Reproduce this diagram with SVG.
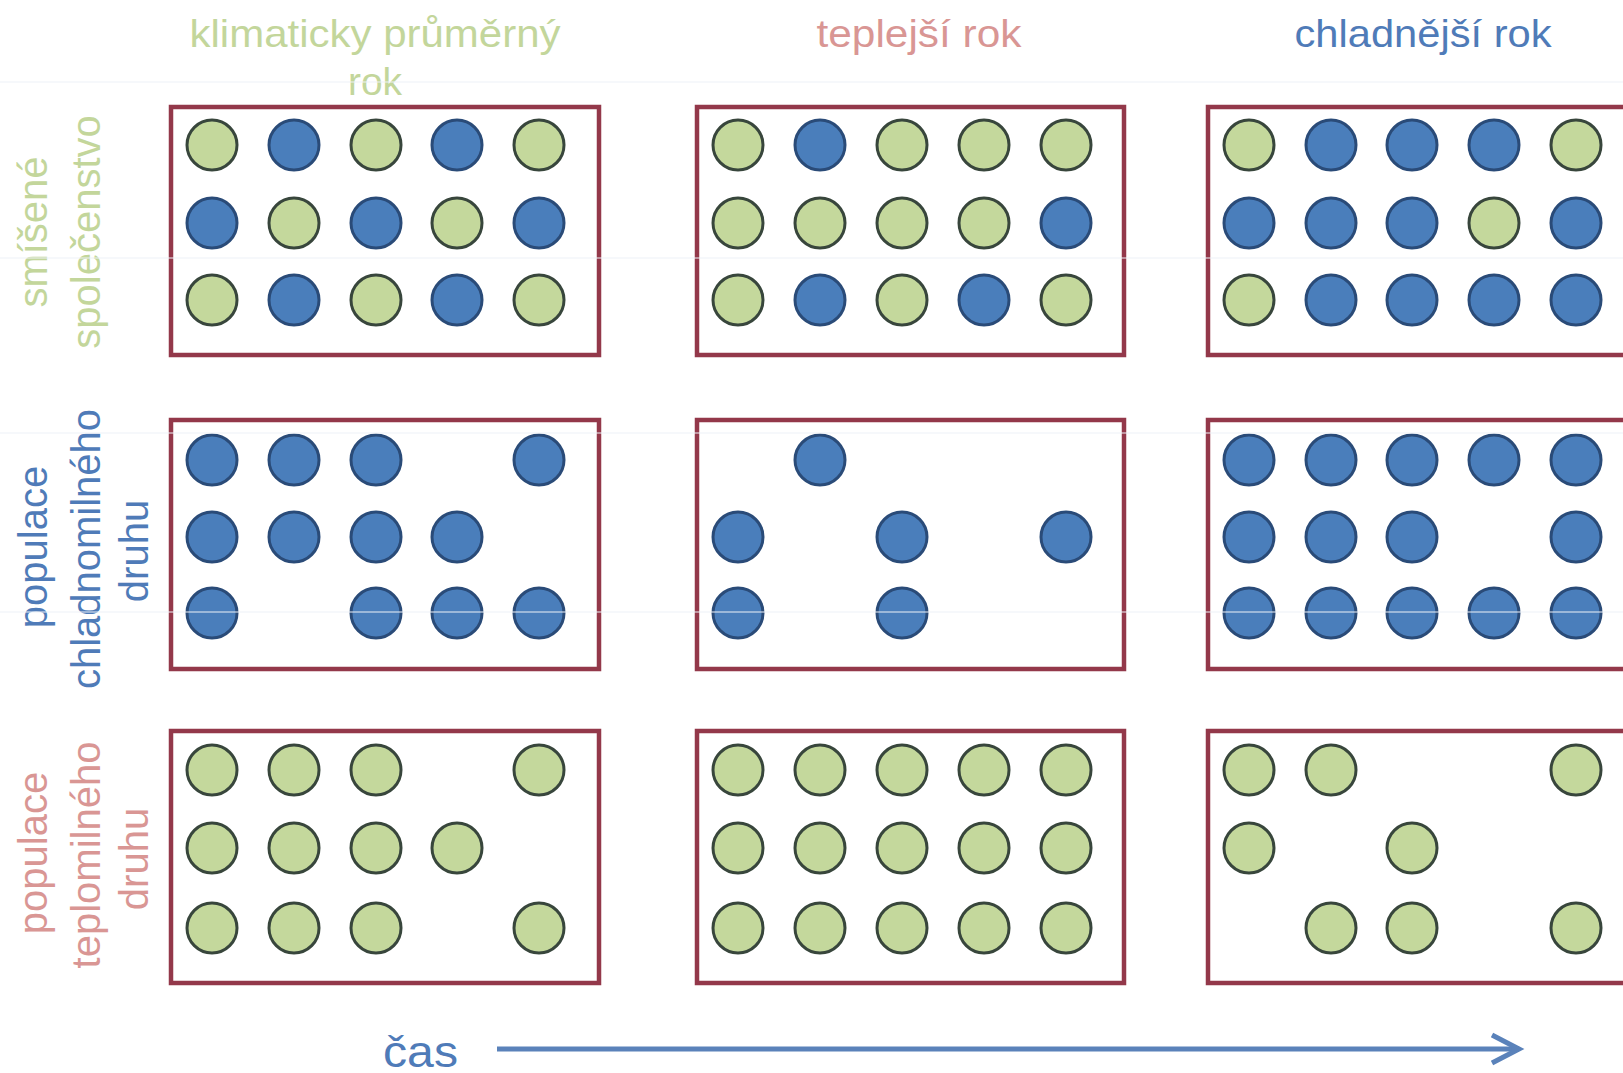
<svg xmlns="http://www.w3.org/2000/svg" width="1623" height="1073" viewBox="0 0 1623 1073">
<style>
.g{fill:#c4d89c;stroke:#38463c;stroke-width:3}
.b{fill:#4a7ebb;stroke:#2a4b78;stroke-width:3}
.box{fill:none;stroke:#93384a;stroke-width:4.5}
.t{font-family:"Liberation Sans",Arial,sans-serif}
.h{font-size:39px;text-anchor:middle}
.lab{font-size:40px;text-anchor:middle}
.green{fill:#c3d69b}
.rose{fill:#d99694}
.blue{fill:#4f7bb8}
.grid{stroke:#eef2f7;stroke-width:1.2}
</style>
<defs>
<marker id="arr" viewBox="-2 -2 34 32" refX="27" refY="14" markerWidth="34" markerHeight="32" markerUnits="userSpaceOnUse" orient="auto" overflow="visible">
<path d="M0,0 L27,14 L0,28" fill="none" stroke="#5a82ba" stroke-width="5"/>
</marker>
</defs>
<rect width="1623" height="1073" fill="#ffffff"/>

<g id="headers" class="t">
<text class="h green" x="375" y="47" textLength="371" lengthAdjust="spacingAndGlyphs">klimaticky průměrný</text>
<text class="h green" x="375" y="95">rok</text>
<text class="h rose" x="919" y="47" textLength="205" lengthAdjust="spacingAndGlyphs">teplejší rok</text>
<text class="h blue" x="1423" y="47" textLength="257" lengthAdjust="spacingAndGlyphs">chladnější rok</text>
</g>

<g id="row-labels" class="t">
<text class="lab green" transform="translate(47,232) rotate(-90)">smíšené</text>
<text class="lab green" transform="translate(100,232) rotate(-90)">společenstvo</text>
<text class="lab blue" transform="translate(47,547) rotate(-90)">populace</text>
<text class="lab blue" transform="translate(100,549) rotate(-90)">chladnomilného</text>
<text class="lab blue" transform="translate(148,551) rotate(-90)">druhu</text>
<text class="lab rose" transform="translate(47,853) rotate(-90)">populace</text>
<text class="lab rose" transform="translate(100,855) rotate(-90)">teplomilného</text>
<text class="lab rose" transform="translate(148,859) rotate(-90)">druhu</text>
</g>

<g id="panel-mixed-average">
<rect class="box" x="171" y="107" width="428" height="248"/>
<circle class="g" cx="212" cy="145" r="25"/><circle class="b" cx="294" cy="145" r="25"/><circle class="g" cx="376" cy="145" r="25"/><circle class="b" cx="457" cy="145" r="25"/><circle class="g" cx="539" cy="145" r="25"/>
<circle class="b" cx="212" cy="223" r="25"/><circle class="g" cx="294" cy="223" r="25"/><circle class="b" cx="376" cy="223" r="25"/><circle class="g" cx="457" cy="223" r="25"/><circle class="b" cx="539" cy="223" r="25"/>
<circle class="g" cx="212" cy="300" r="25"/><circle class="b" cx="294" cy="300" r="25"/><circle class="g" cx="376" cy="300" r="25"/><circle class="b" cx="457" cy="300" r="25"/><circle class="g" cx="539" cy="300" r="25"/>
</g>
<g id="panel-mixed-warmer">
<rect class="box" x="697" y="107" width="427" height="248"/>
<circle class="g" cx="738" cy="145" r="25"/><circle class="b" cx="820" cy="145" r="25"/><circle class="g" cx="902" cy="145" r="25"/><circle class="g" cx="984" cy="145" r="25"/><circle class="g" cx="1066" cy="145" r="25"/>
<circle class="g" cx="738" cy="223" r="25"/><circle class="g" cx="820" cy="223" r="25"/><circle class="g" cx="902" cy="223" r="25"/><circle class="g" cx="984" cy="223" r="25"/><circle class="b" cx="1066" cy="223" r="25"/>
<circle class="g" cx="738" cy="300" r="25"/><circle class="b" cx="820" cy="300" r="25"/><circle class="g" cx="902" cy="300" r="25"/><circle class="b" cx="984" cy="300" r="25"/><circle class="g" cx="1066" cy="300" r="25"/>
</g>
<g id="panel-mixed-colder">
<rect class="box" x="1208" y="107" width="430" height="248"/>
<circle class="g" cx="1249" cy="145" r="25"/><circle class="b" cx="1331" cy="145" r="25"/><circle class="b" cx="1412" cy="145" r="25"/><circle class="b" cx="1494" cy="145" r="25"/><circle class="g" cx="1576" cy="145" r="25"/>
<circle class="b" cx="1249" cy="223" r="25"/><circle class="b" cx="1331" cy="223" r="25"/><circle class="b" cx="1412" cy="223" r="25"/><circle class="g" cx="1494" cy="223" r="25"/><circle class="b" cx="1576" cy="223" r="25"/>
<circle class="g" cx="1249" cy="300" r="25"/><circle class="b" cx="1331" cy="300" r="25"/><circle class="b" cx="1412" cy="300" r="25"/><circle class="b" cx="1494" cy="300" r="25"/><circle class="b" cx="1576" cy="300" r="25"/>
</g>

<g id="panel-cold-average">
<rect class="box" x="171" y="420" width="428" height="249"/>
<circle class="b" cx="212" cy="460" r="25"/><circle class="b" cx="294" cy="460" r="25"/><circle class="b" cx="376" cy="460" r="25"/><circle class="b" cx="539" cy="460" r="25"/>
<circle class="b" cx="212" cy="537" r="25"/><circle class="b" cx="294" cy="537" r="25"/><circle class="b" cx="376" cy="537" r="25"/><circle class="b" cx="457" cy="537" r="25"/>
<circle class="b" cx="212" cy="613" r="25"/><circle class="b" cx="376" cy="613" r="25"/><circle class="b" cx="457" cy="613" r="25"/><circle class="b" cx="539" cy="613" r="25"/>
</g>
<g id="panel-cold-warmer">
<rect class="box" x="697" y="420" width="427" height="249"/>
<circle class="b" cx="820" cy="460" r="25"/>
<circle class="b" cx="738" cy="537" r="25"/><circle class="b" cx="902" cy="537" r="25"/><circle class="b" cx="1066" cy="537" r="25"/>
<circle class="b" cx="738" cy="613" r="25"/><circle class="b" cx="902" cy="613" r="25"/>
</g>
<g id="panel-cold-colder">
<rect class="box" x="1208" y="420" width="430" height="249"/>
<circle class="b" cx="1249" cy="460" r="25"/><circle class="b" cx="1331" cy="460" r="25"/><circle class="b" cx="1412" cy="460" r="25"/><circle class="b" cx="1494" cy="460" r="25"/><circle class="b" cx="1576" cy="460" r="25"/>
<circle class="b" cx="1249" cy="537" r="25"/><circle class="b" cx="1331" cy="537" r="25"/><circle class="b" cx="1412" cy="537" r="25"/><circle class="b" cx="1576" cy="537" r="25"/>
<circle class="b" cx="1249" cy="613" r="25"/><circle class="b" cx="1331" cy="613" r="25"/><circle class="b" cx="1412" cy="613" r="25"/><circle class="b" cx="1494" cy="613" r="25"/><circle class="b" cx="1576" cy="613" r="25"/>
</g>

<g id="panel-warm-average">
<rect class="box" x="171" y="731" width="428" height="252"/>
<circle class="g" cx="212" cy="770" r="25"/><circle class="g" cx="294" cy="770" r="25"/><circle class="g" cx="376" cy="770" r="25"/><circle class="g" cx="539" cy="770" r="25"/>
<circle class="g" cx="212" cy="848" r="25"/><circle class="g" cx="294" cy="848" r="25"/><circle class="g" cx="376" cy="848" r="25"/><circle class="g" cx="457" cy="848" r="25"/>
<circle class="g" cx="212" cy="928" r="25"/><circle class="g" cx="294" cy="928" r="25"/><circle class="g" cx="376" cy="928" r="25"/><circle class="g" cx="539" cy="928" r="25"/>
</g>
<g id="panel-warm-warmer">
<rect class="box" x="697" y="731" width="427" height="252"/>
<circle class="g" cx="738" cy="770" r="25"/><circle class="g" cx="820" cy="770" r="25"/><circle class="g" cx="902" cy="770" r="25"/><circle class="g" cx="984" cy="770" r="25"/><circle class="g" cx="1066" cy="770" r="25"/>
<circle class="g" cx="738" cy="848" r="25"/><circle class="g" cx="820" cy="848" r="25"/><circle class="g" cx="902" cy="848" r="25"/><circle class="g" cx="984" cy="848" r="25"/><circle class="g" cx="1066" cy="848" r="25"/>
<circle class="g" cx="738" cy="928" r="25"/><circle class="g" cx="820" cy="928" r="25"/><circle class="g" cx="902" cy="928" r="25"/><circle class="g" cx="984" cy="928" r="25"/><circle class="g" cx="1066" cy="928" r="25"/>
</g>
<g id="panel-warm-colder">
<rect class="box" x="1208" y="731" width="430" height="252"/>
<circle class="g" cx="1249" cy="770" r="25"/><circle class="g" cx="1331" cy="770" r="25"/><circle class="g" cx="1576" cy="770" r="25"/>
<circle class="g" cx="1249" cy="848" r="25"/><circle class="g" cx="1412" cy="848" r="25"/>
<circle class="g" cx="1331" cy="928" r="25"/><circle class="g" cx="1412" cy="928" r="25"/><circle class="g" cx="1576" cy="928" r="25"/>
</g>

<g id="gridlines">
<line class="grid" x1="0" y1="82" x2="1623" y2="82"/>
<line class="grid" x1="0" y1="258" x2="1623" y2="258"/>
<line class="grid" x1="0" y1="433" x2="1623" y2="433"/>
<line class="grid" x1="0" y1="612" x2="1623" y2="612"/>
</g>

<g id="connectors">
<text class="t blue" x="383" y="1067" font-size="44" textLength="75" lengthAdjust="spacingAndGlyphs">čas</text>
<line x1="497" y1="1049" x2="1519" y2="1049" stroke="#5a82ba" stroke-width="5" marker-end="url(#arr)"/>
</g>
</svg>
